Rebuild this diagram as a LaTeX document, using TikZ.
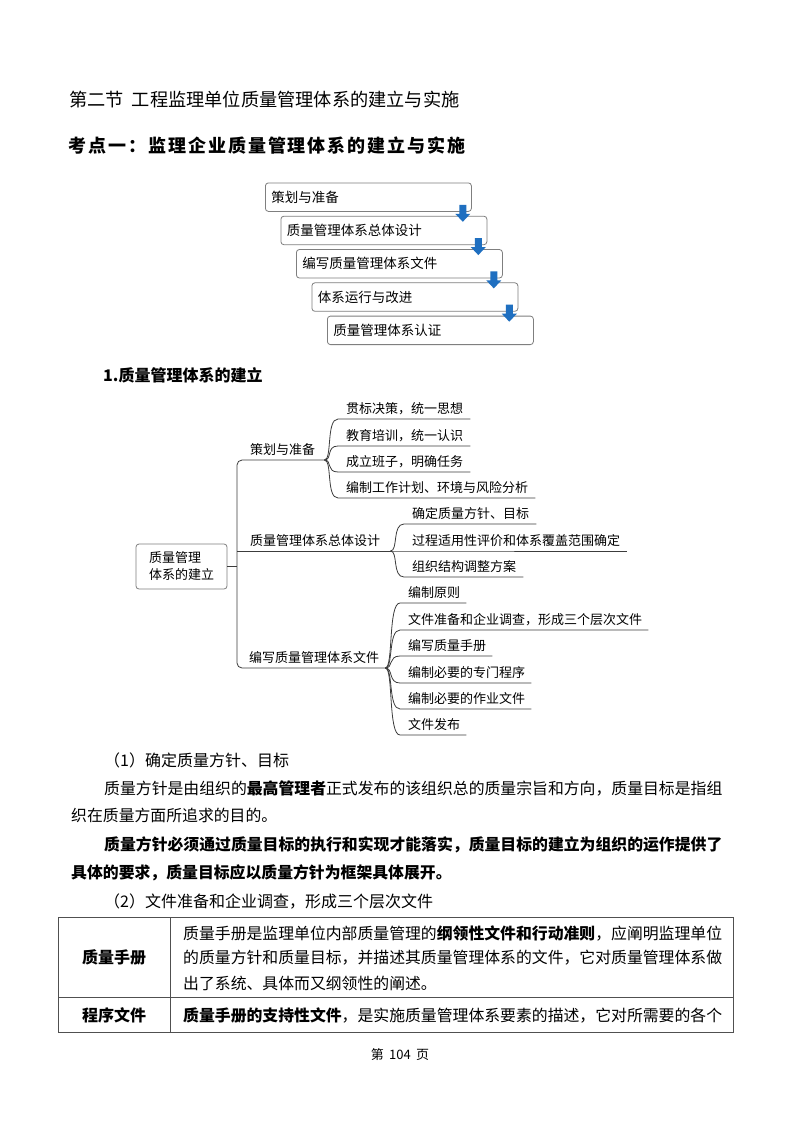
\documentclass[tikz,border=0pt]{standalone}
\usepackage{fontspec}
\setmainfont{Noto Sans CJK SC}
\usetikzlibrary{calc}

\definecolor{boxgray}{HTML}{7F7F7F}
\definecolor{arrowblue}{HTML}{1F6FC0}
\definecolor{linegray}{HTML}{3C3C3C}
\definecolor{rulegray}{HTML}{505050}
\newcommand\setsize[1]{\fontsize{#1}{#1}\selectfont}

\tikzset{
  txt/.style={anchor=west, inner sep=0pt},
  stage/.style={draw=boxgray, line width=0.8pt, rounded corners=3pt, anchor=north west,
    text width=194pt, align=left, inner xsep=6pt, minimum height=28.5pt, font=\setsize{13.5}},
  root/.style={draw=boxgray, line width=0.8pt, rounded corners=3pt, minimum width=91pt,
    minimum height=45pt, align=left, font=\fontsize{13}{17}\selectfont},
  branch/.style={anchor=south west, inner xsep=0pt, inner ysep=4pt, text height=11pt,
    text depth=1pt, font=\setsize{13}},
  leaf/.style={branch},
  mind/.style={draw=linegray, line width=0.8pt},
  pics/downarrow/.style={code={
    \fill[arrowblue] (-3.5,0) -- (3.5,0) -- (3.5,9) -- (7.5,9) -- (0,17) -- (-7.5,9) -- (-3.5,9) -- cycle;}}
}

\begin{document}
\begin{tikzpicture}[x=1pt, y=-1pt]
\fill[white] (0,0) rectangle (800,1124);
\useasboundingbox (0,0) rectangle (800,1124);

\node[txt, font=\setsize{18.2}] (sect) at (69,100) {第二节\hspace{0.45em}工程监理单位质量管理体系的建立与实施};
\node[txt, font=\setsize{18}\bfseries\addfontfeature{LetterSpace=11}] (point) at (68,146) {考点一：监理企业质量管理体系的建立与实施};

\node[stage] (s1) at (265,182.5) {策划与准备};
\node[stage] (s2) at ($(s1.south west)+(15.5,4)$) {质量管理体系总体设计};
\node[stage] (s3) at ($(s2.south west)+(15.5,4)$) {编写质量管理体系文件};
\node[stage] (s4) at ($(s3.south west)+(15.5,4)$) {体系运行与改进};
\node[stage] (s5) at ($(s4.south west)+(15.5,4)$) {质量管理体系认证};
\pic at ($(s1.south east)+(-9,-7)$) {downarrow};
\pic at ($(s2.south east)+(-9,-7)$) {downarrow};
\pic at ($(s3.south east)+(-9,-7)$) {downarrow};
\pic at ($(s4.south east)+(-9,-7)$) {downarrow};

\node[txt, font=\setsize{16}\bfseries] (build) at (103,375) {1.质量管理体系的建立};

\node[root] (root) at (181.5,566.5) {质量管理\\体系的建立};
\coordinate (trunk) at (237,566.5);
\node[branch] (plan) at (250,460) {策划与准备};
\node[branch] (design) at (250,551) {质量管理体系总体设计};
\node[branch] (write) at (249,668) {编写质量管理体系文件};
\coordinate (planend) at ([xshift=9pt]plan.south east);
\coordinate (designend) at ([xshift=10pt]design.south east);
\coordinate (writeend) at ([xshift=6pt]write.south east);

\node[leaf] (plan1) at (346,419) {贯标决策，统一思想};
\node[leaf] (plan2) at (346,446) {教育培训，统一认识};
\node[leaf] (plan3) at (346,472) {成立班子，明确任务};
\node[leaf] (plan4) at (346,498) {编制工作计划、环境与风险分析};
\node[leaf] (design1) at (412,524) {确定质量方针、目标};
\node[leaf] (design2) at (412,551) {过程适用性评价和体系覆盖范围确定};
\node[leaf] (design3) at (412,577) {组织结构调整方案};
\node[leaf] (write1) at (408,603) {编制原则};
\node[leaf] (write2) at (408,630) {文件准备和企业调查，形成三个层次文件};
\node[leaf] (write3) at (408,656) {编写质量手册};
\node[leaf] (write4) at (408,683) {编制必要的专门程序};
\node[leaf] (write5) at (408,709) {编制必要的作业文件};
\node[leaf] (write6) at (408,735) {文件发布};

\draw[mind] (root.east) -- (trunk);
\draw[mind, rounded corners=5pt] (planend) -| (trunk) |- (writeend);
\draw[mind] (trunk |- designend) -- (designend);
\foreach \l in {plan1,plan2,plan3,plan4}
  \draw[mind] (planend) .. controls +(8,0) and +(-12,0) .. ([xshift=-8pt]\l.south west) -- ([xshift=7pt]\l.south east);
\foreach \l in {design1,design2,design3}
  \draw[mind] (designend) .. controls +(8,0) and +(-12,0) .. ([xshift=-8pt]\l.south west) -- ([xshift=7pt]\l.south east);
\foreach \l in {write1,write2,write3,write4,write5,write6}
  \draw[mind] (writeend) .. controls +(8,0) and +(-12,0) .. ([xshift=-8pt]\l.south west) -- ([xshift=6pt]\l.south east);

\node[txt, font=\setsize{16}] (item1) at (104,760) {（1）确定质量方针、目标};
\node[txt, font=\setsize{15.85}] (para1) at (104,788) {质量方针是由组织的\textbf{最高管理者}正式发布的该组织总的质量宗旨和方向，质量目标是指组};
\node[txt, font=\setsize{15.85}] (para2) at (71,815) {织在质量方面所追求的目的。};
\node[txt, font=\setsize{15.85}\bfseries] (bold1) at (104,845) {质量方针必须通过质量目标的执行和实现才能落实，质量目标的建立为组织的运作提供了};
\node[txt, font=\setsize{15.85}\bfseries] (bold2) at (71,873) {具体的要求，质量目标应以质量方针为框架具体展开。};
\node[txt, font=\setsize{16}] (item2) at (104,901) {（2）文件准备和企业调查，形成三个层次文件};

\draw[rulegray, line width=1pt] (58,917) rectangle (733,1032);
\draw[rulegray, line width=1pt] (170,917) -- (170,1032);
\draw[rulegray, line width=1pt] (58,997) -- (733,997);
\node[font=\setsize{16}\bfseries] (manual) at (114,957) {质量手册};
\node[font=\setsize{16}\bfseries] (proc) at (114,1015) {程序文件};
\node[txt, font=\setsize{15.85}] (manual1) at (183,933) {质量手册是监理单位内部质量管理的\textbf{纲领性文件和行动准则}，应阐明监理单位};
\node[txt, font=\setsize{15.85}] (manual2) at (183,958) {的质量方针和质量目标，并描述其质量管理体系的文件，它对质量管理体系做};
\node[txt, font=\setsize{15.85}] (manual3) at (183,983) {出了系统、具体而又纲领性的阐述。};
\node[txt, font=\setsize{15.85}] (proc1) at (183,1015) {\textbf{质量手册的支持性文件}，是实施质量管理体系要素的描述，它对所需要的各个};

\node[font=\setsize{13}] (page) at (400,1055) {第\hspace{0.4em}104\hspace{0.4em}页};
\end{tikzpicture}
\end{document}
